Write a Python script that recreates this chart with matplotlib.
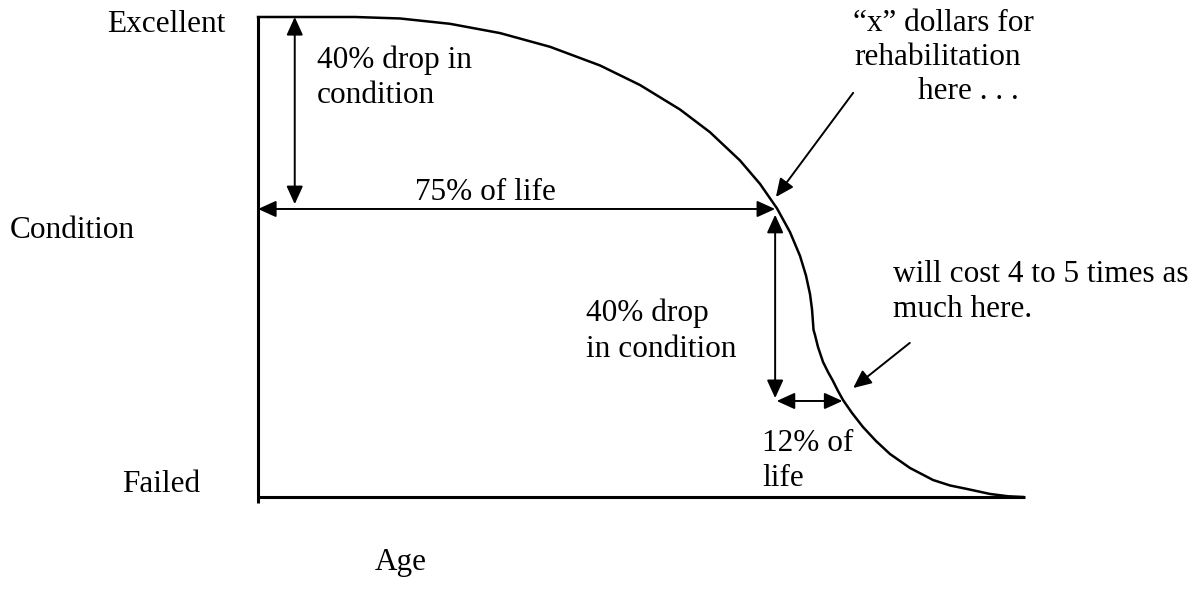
import matplotlib
matplotlib.use("Agg")
from matplotlib import pyplot as plt

plt.rcParams['font.family'] = ['Liberation Serif', 'DejaVu Serif']

# deterioration curve (age and condition as fractions)
age = [0.0, 0.1268, 0.1856, 0.2510, 0.3163, 0.3817, 0.4471, 0.4993, 0.5516,
       0.5908, 0.6301, 0.6562, 0.6784, 0.6954, 0.7085, 0.7163, 0.7216, 0.7242,
       0.7262, 0.7281, 0.7320, 0.7386, 0.7451, 0.7516, 0.7582, 0.7647, 0.7765,
       0.7908, 0.8078, 0.8261, 0.8523, 0.8824, 0.9046, 0.9268, 0.9569, 0.9804, 1.0]
condition = [1.0, 1.0, 0.9969, 0.9858, 0.9665, 0.9379, 0.8990, 0.8583, 0.8073,
             0.7600, 0.7010, 0.6523, 0.6013, 0.5519, 0.5023, 0.4615, 0.4225, 0.3910,
             0.3479, 0.3375, 0.3125, 0.2813, 0.2604, 0.2417, 0.2208, 0.2021, 0.1750,
             0.1458, 0.1167, 0.0896, 0.0604, 0.0354, 0.0240, 0.0167, 0.0063, 0.0015, 0.0]

level_labels = ['Excellent', 'Condition', 'Failed']
rehab_point = (0.676, 0.60)   # 75% of life, 40% drop
late_point = (0.764, 0.20)    # 12% later, another 40% drop

FS = 22.5

fig = plt.figure(figsize=(12.01, 5.89), dpi=100)
ax = fig.add_axes([0, 0, 1, 1])
ax.set_xlim(-0.3373, 1.2327)
ax.set_ylim(-0.1917, 1.0354)
ax.axis('off')

# axes lines
ax.plot([0, 0], [1.0, -0.0125], color='black', lw=2.2, solid_capstyle='butt')
ax.plot([0, 1.003], [0, 0], color='black', lw=2.2, solid_capstyle='butt')

# curve
ax.plot(age, condition, color='black', lw=1.8, solid_joinstyle='round')


def arrow(tail, tip, both=False):
    style = '<|-|>' if both else '-|>'
    ax.annotate('', xy=tip, xytext=tail,
                arrowprops=dict(arrowstyle=style + ',head_length=0.55,head_width=0.25',
                                mutation_scale=20, lw=1.4, color='black',
                                shrinkA=0, shrinkB=0))


rx, ry = rehab_point
lx, ly = late_point
arrow((0.048, 1.0), (0.048, 0.61), both=True)
arrow((0.0, ry), (rx, ry), both=True)
arrow((rx, 0.588), (rx, 0.206), both=True)
arrow((0.678, ly), (lx, ly), both=True)
arrow((0.778, 0.842), (0.677, 0.625))
arrow((0.852, 0.321), (0.778, 0.227))

# labels on the left
ax.text(-0.043, 0.969, level_labels[0], fontsize=FS, ha='right', va='baseline')
ax.text(-0.324, 0.540, level_labels[1], fontsize=FS, ha='left', va='baseline')
ax.text(-0.0758, 0.0104, level_labels[2], fontsize=FS, ha='right', va='baseline')
ax.text(0.153, -0.152, 'Age', fontsize=FS, ha='left', va='baseline')

# annotations
ax.text(0.077, 0.894, '40% drop in', fontsize=FS, va='baseline')
ax.text(0.077, 0.821, 'condition', fontsize=FS, va='baseline')
ax.text(0.205, 0.619, '75% of life', fontsize=FS, va='baseline')
ax.text(0.429, 0.367, '40% drop', fontsize=FS, va='baseline')
ax.text(0.429, 0.292, 'in condition', fontsize=FS, va='baseline')
ax.text(0.659, 0.096, '12% of', fontsize=FS, va='baseline')
ax.text(0.659, 0.023, 'life', fontsize=FS, va='baseline')
ax.text(0.778, 0.971, '\u201cx\u201d dollars for', fontsize=FS, va='baseline')
ax.text(0.780, 0.900, 'rehabilitation', fontsize=FS, va='baseline')
ax.text(0.863, 0.829, 'here . . .', fontsize=FS, va='baseline')
ax.text(0.830, 0.448, 'will cost 4 to 5 times as', fontsize=FS, va='baseline')
ax.text(0.830, 0.375, 'much here.', fontsize=FS, va='baseline')

fig.savefig('out.png', dpi=100)
